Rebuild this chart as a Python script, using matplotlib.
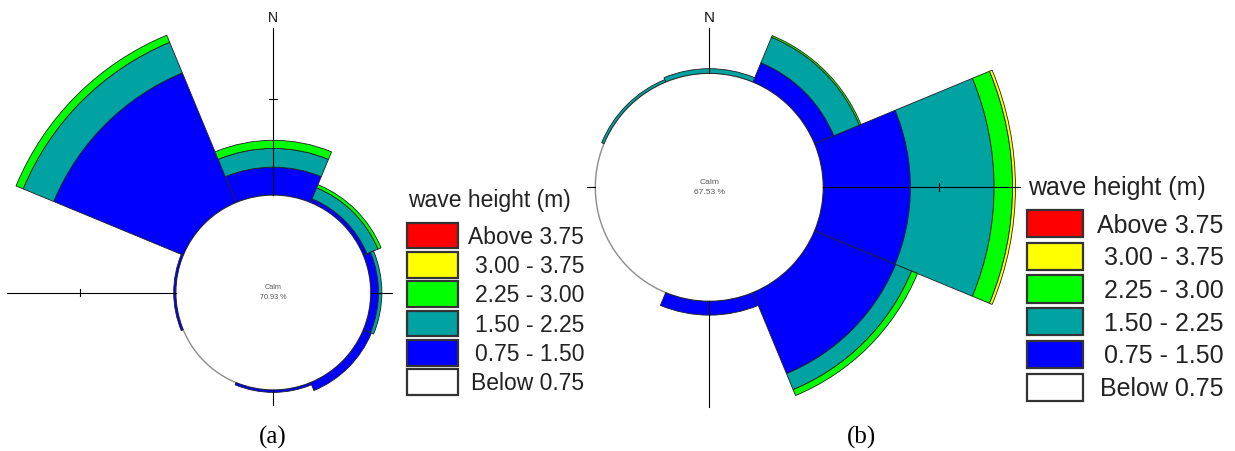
import numpy as np
import matplotlib.pyplot as plt
from matplotlib.patches import Rectangle

W, H = 1235, 451

directions = ['N', 'NE', 'E', 'SE', 'S', 'SW', 'W', 'NW']
classes = ['Below 0.75', '0.75 - 1.50', '1.50 - 2.25', '2.25 - 3.00', '3.00 - 3.75', 'Above 3.75']
class_colors = ['white', '#0000ff', '#00a2a2', '#00ff00', '#ffff00', '#ff0000']

# frequency (%) per direction, one list per wave height class
a_075_150 = [2.90, 0.40, 0.80, 0.90, 0.25, 0.0, 0.22, 14.60]
a_150_225 = [1.95, 1.25, 0.35, 0.0, 0.0, 0.0, 0.0, 3.45]
a_225_300 = [0.85, 0.35, 0.0, 0.0, 0.0, 0.0, 0.0, 0.80]
a_300_375 = [0.0] * 8
a_above = [0.0] * 8
calm_a = 70.93

b_075_150 = [0.0, 1.80, 7.55, 7.60, 1.20, 0.0, 0.0, 0.0]
b_150_225 = [0.40, 2.40, 7.25, 1.50, 0.0, 0.0, 0.0, 0.22]
b_225_300 = [0.0, 0.15, 1.60, 0.55, 0.0, 0.0, 0.0, 0.0]
b_300_375 = [0.0, 0.0, 0.25, 0.0, 0.0, 0.0, 0.0, 0.0]
b_above = [0.0] * 8
calm_b = 67.53

plt.rcParams['font.family'] = ['Liberation Sans', 'DejaVu Sans']
fig = plt.figure(figsize=(W / 100, H / 100), dpi=100)


def rose(cx, cy, r0, scale, segs, calm, lines, calm_fs, n_fs):
    # cx, cy, r0, lines in pixels; scale = pixels per percent
    rmax = 340
    ax = fig.add_axes([(cx - rmax) / W, (H - cy - rmax) / H, 2 * rmax / W, 2 * rmax / H],
                      projection='polar')
    ax.set_theta_zero_location('N')
    ax.set_theta_direction(-1)
    ax.set_ylim(0, rmax / scale)
    ax.set_axis_off()
    base = r0 / scale
    th = np.radians(np.arange(len(directions)) * 45.0)

    ax.bar(0, base, width=2 * np.pi, bottom=0, color='white', edgecolor='none', zorder=1)
    tt = np.linspace(0, 2 * np.pi, 721)
    ax.plot(tt, np.full_like(tt, base), color='#8c8c8c', lw=1.0, zorder=1.5)

    bottom = np.full(len(directions), base)
    for vals, col in zip(segs, class_colors[1:]):
        v = np.asarray(vals)
        m = v > 0
        if m.any():
            ax.bar(th[m], v[m], width=np.radians(45), bottom=bottom[m], color=col,
                   edgecolor='#202020', lw=0.6, zorder=2)
        bottom = bottom + v

    ring = base + 10
    for ang, L in zip([0, 90, 180, 270], lines):
        a = np.radians(ang)
        ax.plot([a, a], [base, L / scale], color='black', lw=0.8, zorder=3)
        if L > r0 + 10 * scale:
            d = 4.0 / (r0 + 10 * scale)
            ax.plot([a - d, a + d], [ring, ring], color='black', lw=0.8, zorder=3)

    ax.annotate('N', xy=(0, lines[0] / scale), xytext=(0, 3), textcoords='offset pixels',
                ha='center', va='bottom', fontsize=n_fs, color='#111111')
    ax.annotate('Calm', xy=(0, 0), xytext=(0, 5), textcoords='offset pixels',
                ha='center', va='center', fontsize=calm_fs, color='#555555')
    ax.annotate('%.2f %%' % calm, xy=(0, 0), xytext=(0, -5), textcoords='offset pixels',
                ha='center', va='center', fontsize=calm_fs, color='#555555')


rose(273.3, 292.5, 97.5, 9.6,
     [a_075_150, a_150_225, a_225_300, a_300_375, a_above], calm_a,
     [264.5, 119, 112, 266], 5.2, 10)
rose(709.3, 187.3, 114.0, 11.54,
     [b_075_150, b_150_225, b_225_300, b_300_375, b_above], calm_b,
     [159, 311, 220, 122], 6.1, 11)

ov = fig.add_axes([0, 0, 1, 1])
ov.set_xlim(0, W)
ov.set_ylim(H, 0)
ov.set_axis_off()


def legend(x0, title_y, box_y0, bw, bh, step, xr, fs):
    em = fs * 100 / 72
    ov.text(x0 + 1, title_y, 'wave height (m)', ha='left', va='baseline', fontsize=fs,
            color='#222222')
    for i, (lab, col) in enumerate(zip(classes[::-1], class_colors[::-1])):
        y = box_y0 + i * step
        ov.add_patch(Rectangle((x0, y), bw, bh, facecolor=col, edgecolor='#333333', lw=1.6))
        ov.text(xr, y + bh / 2 + 0.36 * em, lab, ha='right', va='baseline', fontsize=fs,
                color='#222222')


legend(406.7, 207, 222.7, 51.6, 25.6, 29.3, 584.3, 16.5)
legend(1027.3, 195, 210.0, 55.3, 27.3, 32.7, 1223.5, 18)

ov.text(273, 437, '(a)', ha='center', va='center', fontsize=18, family='Liberation Serif')
ov.text(862, 437, '(b)', ha='center', va='center', fontsize=18, family='Liberation Serif')

fig.savefig('out.png', dpi=100)
